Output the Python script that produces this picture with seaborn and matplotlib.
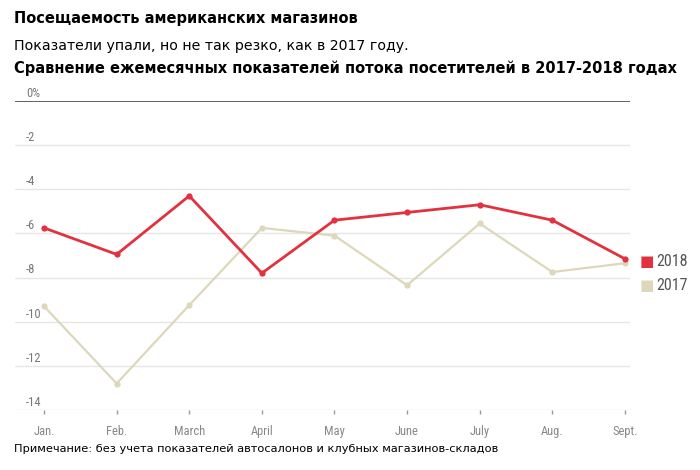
import matplotlib
matplotlib.use("Agg")
import matplotlib.pyplot as plt
import matplotlib.transforms as mtransforms
from matplotlib import font_manager
import seaborn as sns
import pandas as pd

months = ["Jan.", "Feb.", "March", "April", "May", "June", "July", "Aug.", "Sept."]
vals_2018 = [-5.75, -6.95, -4.3, -7.8, -5.4, -5.05, -4.7, -5.4, -7.15]
vals_2017 = [-9.3, -12.8, -9.25, -5.75, -6.1, -8.35, -5.55, -7.75, -7.35]
yticks = [0, -2, -4, -6, -8, -10, -12, -14]
ytick_labels = ["0%", "-2", "-4", "-6", "-8", "-10", "-12", "-14"]

sns.set_theme(style="white")
names = {f.name for f in font_manager.fontManager.ttflist}
cond = [n for n in ["Roboto Condensed", "Liberation Sans Narrow", "Roboto", "DejaVu Sans"] if n in names]
plt.rcParams['font.family'] = cond + ['DejaVu Sans']

df = pd.DataFrame({
    "month": list(range(len(months))) * 2,
    "value": vals_2017 + vals_2018,
    "year": ["2017"] * len(months) + ["2018"] * len(months),
})

RED = "#e2313f"
BEIGE = "#dcd8b9"

fig = plt.figure(figsize=(7, 4.7), dpi=100)
ax = fig.add_axes([15/700, 1 - 410/470, (630-15)/700, (410-101)/470])

sns.lineplot(data=df, x="month", y="value", hue="year",
             palette={"2017": BEIGE, "2018": RED}, hue_order=["2017", "2018"],
             marker="o", markersize=4.5, markeredgewidth=0, ax=ax, legend=False)
for line in ax.lines:
    if line.get_color() == BEIGE:
        line.set_linewidth(1.6)
    else:
        line.set_linewidth(2.0)

ax.set_ylim(-14, 0)
ax.set_xlim(-0.4, 8.07)
for s in ax.spines.values():
    s.set_visible(False)
for y in yticks:
    if y == 0:
        ax.axhline(0, color="#555555", lw=1.3, zorder=1)
    else:
        ax.axhline(y, color="#e6e6e6", lw=1.0, zorder=0)
ax.set_yticks([])
ax.set_xticks(range(len(months)))
ax.set_xticklabels(months, color="#888888", fontsize=9)
ax.tick_params(axis="x", length=3, width=1, color="#999999", pad=8, bottom=True)
ax.set_xlabel("")
ax.set_ylabel("")

blend = mtransforms.blended_transform_factory(fig.transFigure, ax.transData)
for y, lab in zip(yticks, ytick_labels):
    ax.text(26/700, y + 0.05, lab, transform=blend,
            ha="left", va="bottom", fontsize=9, color="#777777")

renderer = fig.canvas.get_renderer()

def fitted(x, y, s, width_px, size, **kw):
    t = fig.text(x/700, 1 - y/470, s, fontsize=size, va="center", ha="left", **kw)
    w = t.get_window_extent(renderer).width
    t.set_fontsize(size * width_px / w)
    return t

fitted(14, 19, "Посещаемость американских магазинов", 344, 10, fontweight="bold",
       color="black", family="DejaVu Sans")
fitted(14, 46, "Показатели упали, но не так резко, как в 2017 году.", 395, 10,
       color="black", family="DejaVu Sans")
fitted(14, 68, "Сравнение ежемесячных показателей потока посетителей в 2017-2018 годах", 666, 10,
       fontweight="bold", color="black", family="DejaVu Sans")
fitted(14, 449, "Примечание: без учета показателей автосалонов и клубных магазинов-складов", 485, 8.5,
       color="black", family="DejaVu Sans")

# legend
fig.text(640/700, 1 - 262/470, "■", fontsize=11, color=RED, va="center", ha="left", family="DejaVu Sans")
fig.text(656/700, 1 - 262/470, "2018", fontsize=11.5, color="#555555", va="center", ha="left")
fig.text(640/700, 1 - 285/470, "■", fontsize=11, color=BEIGE, va="center", ha="left", family="DejaVu Sans")
fig.text(656/700, 1 - 285/470, "2017", fontsize=11.5, color="#555555", va="center", ha="left")

fig.savefig("out.png", dpi=100)
